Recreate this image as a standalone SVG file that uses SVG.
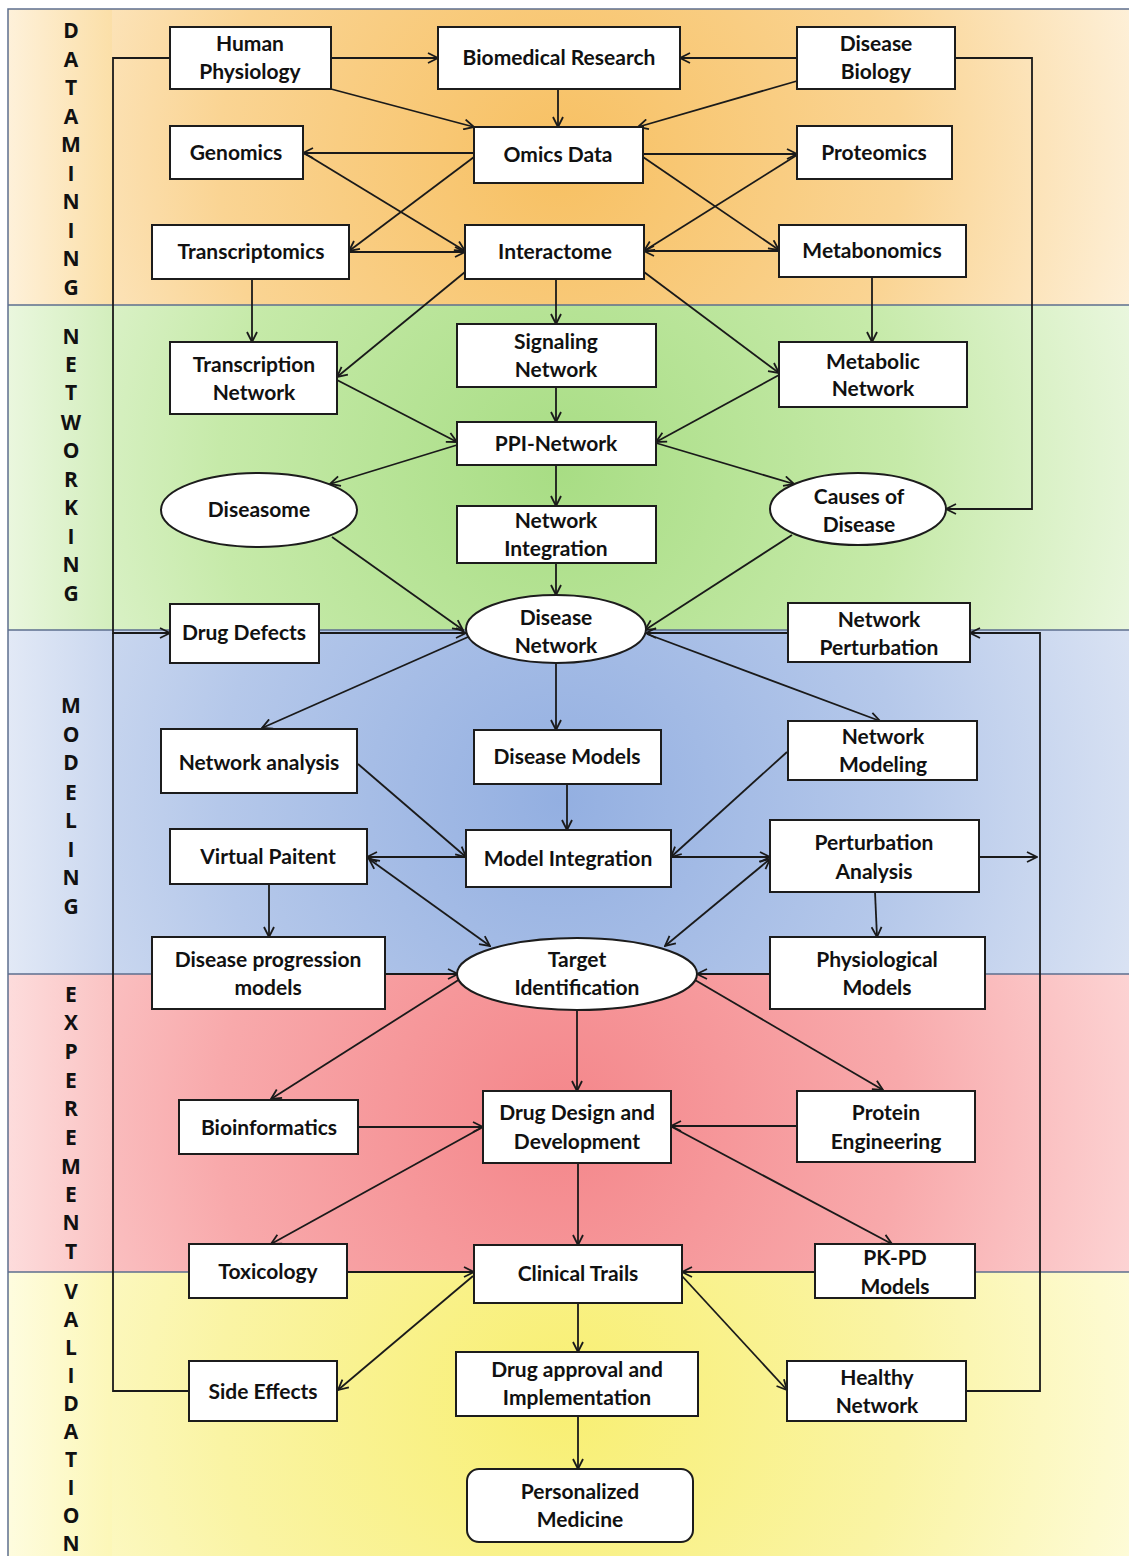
<svg xmlns="http://www.w3.org/2000/svg" width="1129" height="1556" viewBox="0 0 1129 1556">
<style>
.box{fill:#fff;stroke:#1c1c1c;stroke-width:2}
.t{font-family:Lato,"Open Sans","Liberation Sans",sans-serif;font-weight:bold;font-size:21px;fill:#111;text-anchor:middle}
.lt{font-family:"Open Sans",Lato,"Liberation Sans",sans-serif;font-weight:bold;font-size:21px;fill:#111;text-anchor:middle}
.c{fill:none;stroke:#1a1a1a;stroke-width:1.8}
.e{marker-end:url(#a)}
.s{marker-start:url(#a)}
.sep{stroke:#5d6f8f;stroke-width:1.5;fill:none}
</style>
<defs>
<marker id="a" viewBox="0 0 12 12" refX="11" refY="6" markerWidth="12" markerHeight="12" markerUnits="userSpaceOnUse" orient="auto-start-reverse"><path d="M1,1 L11,6 L1,11" fill="none" stroke="#1a1a1a" stroke-width="1.8"/></marker>
<radialGradient id="gO" gradientUnits="userSpaceOnUse" cx="560" cy="160" r="620"><stop offset="0" stop-color="#F7C062"/><stop offset="0.55" stop-color="#FAD493"/><stop offset="1" stop-color="#FEF3E0"/></radialGradient>
<radialGradient id="gG" gradientUnits="userSpaceOnUse" cx="560" cy="470" r="620"><stop offset="0" stop-color="#A8DD84"/><stop offset="0.55" stop-color="#C6EAA9"/><stop offset="1" stop-color="#EDF8E3"/></radialGradient>
<radialGradient id="gB" gradientUnits="userSpaceOnUse" cx="560" cy="800" r="620"><stop offset="0" stop-color="#93AFE1"/><stop offset="0.55" stop-color="#B5C8EA"/><stop offset="1" stop-color="#DDE5F4"/></radialGradient>
<radialGradient id="gR" gradientUnits="userSpaceOnUse" cx="560" cy="1120" r="620"><stop offset="0" stop-color="#F4868A"/><stop offset="0.55" stop-color="#F8A9AB"/><stop offset="1" stop-color="#FDD8D8"/></radialGradient>
<radialGradient id="gY" gradientUnits="userSpaceOnUse" cx="560" cy="1400" r="620"><stop offset="0" stop-color="#F8EF72"/><stop offset="0.55" stop-color="#FAF4A4"/><stop offset="1" stop-color="#FEFCDD"/></radialGradient>
<linearGradient id="lO" x1="0" x2="1" y1="0" y2="0"><stop offset="0" stop-color="#FEF1DA"/><stop offset="1" stop-color="#FBDFA8"/></linearGradient>
<linearGradient id="lG" x1="0" x2="1" y1="0" y2="0"><stop offset="0" stop-color="#EAF7DE"/><stop offset="1" stop-color="#D3EEBD"/></linearGradient>
<linearGradient id="lB" x1="0" x2="1" y1="0" y2="0"><stop offset="0" stop-color="#E2E9F6"/><stop offset="1" stop-color="#CAD7EF"/></linearGradient>
<linearGradient id="lR" x1="0" x2="1" y1="0" y2="0"><stop offset="0" stop-color="#FDDCDC"/><stop offset="1" stop-color="#FAC3C3"/></linearGradient>
<linearGradient id="lY" x1="0" x2="1" y1="0" y2="0"><stop offset="0" stop-color="#FEFCDF"/><stop offset="1" stop-color="#FCF7B8"/></linearGradient>
</defs>

<g id="bands">
<rect x="0" y="0" width="1129" height="1556" fill="#ffffff"/>
<rect x="8" y="9" width="1121" height="296" fill="url(#gO)"/>
<rect x="8" y="305" width="1121" height="325" fill="url(#gG)"/>
<rect x="8" y="630" width="1121" height="344" fill="url(#gB)"/>
<rect x="8" y="974" width="1121" height="298" fill="url(#gR)"/>
<rect x="8" y="1272" width="1121" height="284" fill="url(#gY)"/>
<rect x="8" y="9" width="104" height="296" fill="url(#lO)"/>
<rect x="8" y="305" width="104" height="325" fill="url(#lG)"/>
<rect x="8" y="630" width="104" height="344" fill="url(#lB)"/>
<rect x="8" y="974" width="104" height="298" fill="url(#lR)"/>
<rect x="8" y="1272" width="104" height="284" fill="url(#lY)"/>
<path class="sep" d="M8,1556 V9 H1129 M8,305 H1129 M8,630 H1129 M8,974 H1129 M8,1272 H1129"/>
</g>

<g id="stage-labels">
<text class="lt"><tspan x="71" y="38">D</tspan><tspan x="71" y="67">A</tspan><tspan x="71" y="95">T</tspan><tspan x="71" y="124">A</tspan><tspan x="71" y="152">M</tspan><tspan x="71" y="181">I</tspan><tspan x="71" y="209">N</tspan><tspan x="71" y="238">I</tspan><tspan x="71" y="266">N</tspan><tspan x="71" y="295">G</tspan></text>
<text class="lt"><tspan x="71" y="344">N</tspan><tspan x="71" y="372">E</tspan><tspan x="71" y="400">T</tspan><tspan x="71" y="430">W</tspan><tspan x="71" y="458">O</tspan><tspan x="71" y="487">R</tspan><tspan x="71" y="515">K</tspan><tspan x="71" y="544">I</tspan><tspan x="71" y="572">N</tspan><tspan x="71" y="601">G</tspan></text>
<text class="lt"><tspan x="71" y="713">M</tspan><tspan x="71" y="742">O</tspan><tspan x="71" y="770">D</tspan><tspan x="71" y="800">E</tspan><tspan x="71" y="828">L</tspan><tspan x="71" y="857">I</tspan><tspan x="71" y="885">N</tspan><tspan x="71" y="914">G</tspan></text>
<text class="lt"><tspan x="71" y="1002">E</tspan><tspan x="71" y="1030">X</tspan><tspan x="71" y="1059">P</tspan><tspan x="71" y="1088">E</tspan><tspan x="71" y="1116">R</tspan><tspan x="71" y="1145">E</tspan><tspan x="71" y="1174">M</tspan><tspan x="71" y="1202">E</tspan><tspan x="71" y="1230">N</tspan><tspan x="71" y="1259">T</tspan></text>
<text class="lt"><tspan x="71" y="1299">V</tspan><tspan x="71" y="1327">A</tspan><tspan x="71" y="1355">L</tspan><tspan x="71" y="1383">I</tspan><tspan x="71" y="1411">D</tspan><tspan x="71" y="1439">A</tspan><tspan x="71" y="1467">T</tspan><tspan x="71" y="1495">I</tspan><tspan x="71" y="1523">O</tspan><tspan x="71" y="1551">N</tspan></text>
</g>

<g id="connectors">
<line class="c e" x1="331" y1="58" x2="438" y2="58"/>
<line class="c e" x1="797" y1="58" x2="680" y2="58"/>
<line class="c e" x1="558" y1="89" x2="558" y2="127"/>
<line class="c e" x1="331" y1="89" x2="474" y2="127"/>
<line class="c e" x1="797" y1="81" x2="638" y2="127"/>
<line class="c e" x1="474" y1="153" x2="303" y2="153"/>
<line class="c e" x1="304" y1="153" x2="465" y2="251"/>
<line class="c e" x1="474" y1="157" x2="349" y2="251"/>
<line class="c e" x1="349" y1="252" x2="465" y2="252"/>
<line class="c e" x1="643" y1="154" x2="797" y2="154"/>
<line class="c e" x1="643" y1="157" x2="779" y2="250"/>
<line class="c e" x1="797" y1="155" x2="644" y2="251"/>
<line class="c e" x1="779" y1="251" x2="644" y2="251"/>
<line class="c e" x1="252" y1="279" x2="252" y2="342"/>
<line class="c e" x1="465" y1="272" x2="337" y2="377"/>
<line class="c e" x1="556" y1="279" x2="556" y2="324"/>
<line class="c e" x1="644" y1="272" x2="779" y2="373"/>
<line class="c e" x1="872" y1="277" x2="872" y2="342"/>
<line class="c e" x1="556" y1="387" x2="556" y2="422"/>
<line class="c e" x1="337" y1="380" x2="457" y2="442"/>
<line class="c e" x1="779" y1="375" x2="656" y2="442"/>
<line class="c e" x1="457" y1="445" x2="330" y2="484"/>
<line class="c e" x1="656" y1="443" x2="794" y2="484"/>
<line class="c e" x1="556" y1="465" x2="556" y2="506"/>
<line class="c e" x1="556" y1="563" x2="556" y2="595"/>
<line class="c e" x1="332" y1="537" x2="463" y2="630"/>
<line class="c e" x1="792" y1="535" x2="645" y2="630"/>
<polyline class="c e" points="955,58 1032,58 1032,509 946,509"/>
<line class="c e" x1="319" y1="633" x2="466" y2="633"/>
<line class="c e" x1="788" y1="633" x2="646" y2="633"/>
<polyline class="c e" points="966,1391 1040,1391 1040,633 970,633"/>
<polyline class="c e" points="170,58 113,58 113,633 170,633"/>
<polyline class="c" points="189,1391 113,1391 113,633"/>
<line class="c e" x1="468" y1="637" x2="262" y2="728"/>
<line class="c e" x1="556" y1="663" x2="556" y2="730"/>
<line class="c e" x1="647" y1="634" x2="880" y2="721"/>
<line class="c e" x1="358" y1="764" x2="466" y2="857"/>
<line class="c e" x1="567" y1="784" x2="567" y2="830"/>
<line class="c e" x1="787" y1="752" x2="671" y2="857"/>
<line class="c e" x1="466" y1="857" x2="367" y2="857"/>
<line class="c e" x1="671" y1="857" x2="770" y2="857"/>
<line class="c e s" x1="369" y1="859" x2="490" y2="946"/>
<line class="c e" x1="269" y1="884" x2="269" y2="937"/>
<line class="c e" x1="979" y1="857" x2="1037" y2="857"/>
<line class="c e" x1="875" y1="892" x2="877" y2="937"/>
<line class="c e s" x1="770" y1="859" x2="665" y2="946"/>
<line class="c e" x1="385" y1="974" x2="458" y2="974"/>
<line class="c e" x1="770" y1="974" x2="697" y2="974"/>
<line class="c e" x1="460" y1="979" x2="271" y2="1099"/>
<line class="c e" x1="695" y1="980" x2="883" y2="1090"/>
<line class="c e" x1="577" y1="1010" x2="577" y2="1091"/>
<line class="c e" x1="358" y1="1127" x2="483" y2="1127"/>
<line class="c e" x1="797" y1="1126" x2="671" y2="1126"/>
<line class="c e" x1="481" y1="1128" x2="271" y2="1244"/>
<line class="c e" x1="672" y1="1127" x2="892" y2="1244"/>
<line class="c e" x1="578" y1="1163" x2="578" y2="1245"/>
<line class="c e" x1="347" y1="1272" x2="474" y2="1272"/>
<line class="c e" x1="815" y1="1272" x2="682" y2="1272"/>
<line class="c e" x1="473" y1="1276" x2="338" y2="1390"/>
<line class="c e" x1="682" y1="1276" x2="787" y2="1390"/>
<line class="c e" x1="578" y1="1303" x2="578" y2="1352"/>
<line class="c e" x1="578" y1="1416" x2="578" y2="1469"/>
</g>

<g id="n-human-physiology"><rect class="box" x="170" y="27" width="161" height="62"/><text class="t"><tspan x="250" y="51">Human</tspan><tspan x="250" y="79">Physiology</tspan></text></g>
<g id="n-biomedical-research"><rect class="box" x="438" y="27" width="242" height="62"/><text class="t" x="559" y="65">Biomedical Research</text></g>
<g id="n-disease-biology"><rect class="box" x="797" y="27" width="158" height="62"/><text class="t"><tspan x="876" y="51">Disease</tspan><tspan x="876" y="79">Biology</tspan></text></g>
<g id="n-genomics"><rect class="box" x="170" y="126" width="133" height="53"/><text class="t" x="236" y="160">Genomics</text></g>
<g id="n-omics-data"><rect class="box" x="474" y="127" width="169" height="56"/><text class="t" x="558" y="162">Omics Data</text></g>
<g id="n-proteomics"><rect class="box" x="797" y="126" width="155" height="53"/><text class="t" x="874" y="160">Proteomics</text></g>
<g id="n-transcriptomics"><rect class="box" x="152" y="225" width="197" height="54"/><text class="t" x="251" y="259">Transcriptomics</text></g>
<g id="n-interactome"><rect class="box" x="465" y="225" width="179" height="54"/><text class="t" x="555" y="259">Interactome</text></g>
<g id="n-metabonomics"><rect class="box" x="779" y="225" width="187" height="52"/><text class="t" x="872" y="258">Metabonomics</text></g>

<g id="n-transcription-network"><rect class="box" x="170" y="342" width="167" height="72"/><text class="t"><tspan x="254" y="372">Transcription</tspan><tspan x="254" y="400">Network</tspan></text></g>
<g id="n-signaling-network"><rect class="box" x="457" y="324" width="199" height="63"/><text class="t"><tspan x="556" y="349">Signaling</tspan><tspan x="556" y="377">Network</tspan></text></g>
<g id="n-metabolic-network"><rect class="box" x="779" y="342" width="188" height="65"/><text class="t"><tspan x="873" y="369">Metabolic</tspan><tspan x="873" y="396">Network</tspan></text></g>
<g id="n-ppi-network"><rect class="box" x="457" y="422" width="199" height="43"/><text class="t" x="556" y="451">PPI-Network</text></g>
<g id="n-diseasome"><ellipse class="box" cx="259" cy="510" rx="98" ry="37"/><text class="t" x="259" y="517">Diseasome</text></g>
<g id="n-causes-of-disease"><ellipse class="box" cx="858" cy="509" rx="88" ry="36"/><text class="t"><tspan x="859" y="504">Causes  of</tspan><tspan x="859" y="532">Disease</tspan></text></g>
<g id="n-network-integration"><rect class="box" x="457" y="506" width="199" height="57"/><text class="t"><tspan x="556" y="528">Network</tspan><tspan x="556" y="556">Integration</tspan></text></g>
<g id="n-disease-network"><ellipse class="box" cx="556" cy="629" rx="90" ry="34"/><text class="t"><tspan x="556" y="625">Disease</tspan><tspan x="556" y="653">Network</tspan></text></g>
<g id="n-drug-defects"><rect class="box" x="170" y="604" width="149" height="59"/><text class="t" x="244" y="640">Drug Defects</text></g>
<g id="n-network-perturbation"><rect class="box" x="788" y="603" width="182" height="59"/><text class="t"><tspan x="879" y="627">Network</tspan><tspan x="879" y="655">Perturbation</tspan></text></g>

<g id="n-network-analysis"><rect class="box" x="161" y="729" width="196" height="64"/><text class="t" x="259" y="770">Network analysis</text></g>
<g id="n-disease-models"><rect class="box" x="474" y="730" width="187" height="54"/><text class="t" x="567" y="764">Disease Models</text></g>
<g id="n-network-modeling"><rect class="box" x="788" y="721" width="189" height="59"/><text class="t"><tspan x="883" y="744">Network</tspan><tspan x="883" y="772">Modeling</tspan></text></g>
<g id="n-virtual-paitent"><rect class="box" x="170" y="829" width="197" height="55"/><text class="t" x="268" y="864">Virtual Paitent</text></g>
<g id="n-model-integration"><rect class="box" x="466" y="830" width="205" height="57"/><text class="t" x="568" y="866">Model Integration</text></g>
<g id="n-perturbation-analysis"><rect class="box" x="770" y="820" width="209" height="72"/><text class="t"><tspan x="874" y="850">Perturbation</tspan><tspan x="874" y="879">Analysis</tspan></text></g>
<g id="n-disease-progression-models"><rect class="box" x="152" y="937" width="233" height="72"/><text class="t"><tspan x="268" y="967">Disease progression</tspan><tspan x="268" y="995">models</tspan></text></g>
<g id="n-target-identification"><ellipse class="box" cx="577" cy="974" rx="120" ry="36"/><text class="t"><tspan x="577" y="967">Target</tspan><tspan x="577" y="995">Identification</tspan></text></g>
<g id="n-physiological-models"><rect class="box" x="770" y="937" width="215" height="72"/><text class="t"><tspan x="877" y="967">Physiological</tspan><tspan x="877" y="995">Models</tspan></text></g>

<g id="n-bioinformatics"><rect class="box" x="179" y="1100" width="179" height="54"/><text class="t" x="269" y="1135">Bioinformatics</text></g>
<g id="n-drug-design"><rect class="box" x="483" y="1091" width="188" height="72"/><text class="t"><tspan x="577" y="1120">Drug Design and</tspan><tspan x="577" y="1149">Development</tspan></text></g>
<g id="n-protein-engineering"><rect class="box" x="797" y="1091" width="178" height="71"/><text class="t"><tspan x="886" y="1120">Protein</tspan><tspan x="886" y="1149">Engineering</tspan></text></g>
<g id="n-toxicology"><rect class="box" x="189" y="1244" width="158" height="54"/><text class="t" x="268" y="1279">Toxicology</text></g>
<g id="n-clinical-trails"><rect class="box" x="474" y="1245" width="208" height="58"/><text class="t" x="578" y="1281">Clinical Trails</text></g>
<g id="n-pk-pd-models"><rect class="box" x="815" y="1244" width="160" height="54"/><text class="t"><tspan x="895" y="1265">PK-PD</tspan><tspan x="895" y="1294">Models</tspan></text></g>

<g id="n-side-effects"><rect class="box" x="189" y="1361" width="148" height="60"/><text class="t" x="263" y="1399">Side Effects</text></g>
<g id="n-drug-approval"><rect class="box" x="456" y="1352" width="242" height="64"/><text class="t"><tspan x="577" y="1377">Drug approval and</tspan><tspan x="577" y="1405">Implementation</tspan></text></g>
<g id="n-healthy-network"><rect class="box" x="787" y="1361" width="179" height="60"/><text class="t"><tspan x="877" y="1385">Healthy</tspan><tspan x="877" y="1413">Network</tspan></text></g>
<g id="n-personalized-medicine"><rect class="box" x="467" y="1469" width="226" height="73" rx="12" ry="12"/><text class="t"><tspan x="580" y="1499">Personalized</tspan><tspan x="580" y="1527">Medicine</tspan></text></g>
</svg>
